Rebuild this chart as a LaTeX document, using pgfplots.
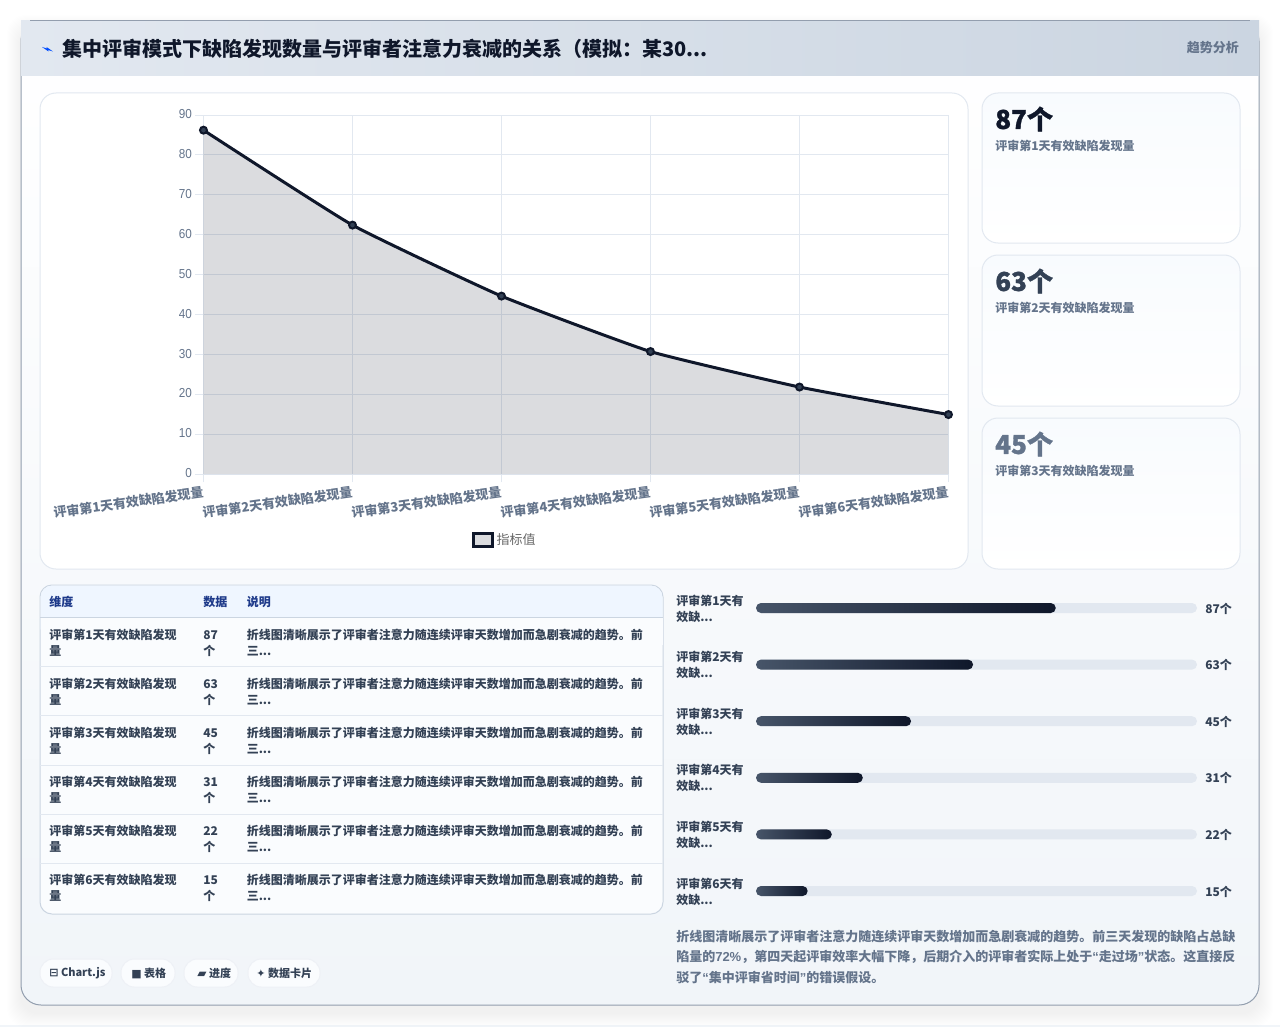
\documentclass[border=0pt]{standalone}
\usepackage{fontspec}
\usepackage{pgfplots}
\pgfplotsset{compat=1.18}
\setmainfont{Noto Sans CJK SC}
\newfontfamily\lat[FakeStretch=0.9]{Liberation Sans}
\newfontfamily\qt{Liberation Sans}
\newfontfamily\sym{DejaVu Sans}
\newfontfamily\heavy[FakeBold=1.2]{Noto Sans CJK SC Black}
\definecolor{ink}{HTML}{0F172A}
\definecolor{slateb}{HTML}{334155}
\definecolor{slatec}{HTML}{475569}
\definecolor{slated}{HTML}{64748B}
\definecolor{line}{HTML}{E2E8F0}
\definecolor{lineb}{HTML}{CBD5E1}
\definecolor{navy}{HTML}{1E3A8A}
\definecolor{pagebot}{HTML}{F1F5F9}
\definecolor{cardtop}{HTML}{F8FBFE}
\definecolor{tablebg}{HTML}{FAFCFE}
\definecolor{headbg}{HTML}{EFF6FF}
\definecolor{legtext}{HTML}{666666}
\newcommand\fz[1]{\fontsize{#1}{#1}\selectfont}
\newcommand\qopen{{\qt “}}
\newcommand\qclose{{\qt ”}}
\tikzset{px/.style={x=0.75pt,y=-0.75pt}}
\begin{document}
\begin{tikzpicture}
\begin{scope}[px]
\path[use as bounding box] (0,0) rectangle (1280,1027);
\fill[white] (0,0) rectangle (1280,1027);
\fill[pagebot] (0,1025) rectangle (1280,1027);
% shadow and container
\foreach \k in {1,...,14}
  \fill[black,opacity=0.004,rounded corners=14pt] ({21-\k},{29-\k}) rectangle ({1259+\k},{1005+\k+8});
\path[draw=slated!70,line width=0.75pt,rounded corners=15pt,top color=white,bottom color=pagebot]
  (21,21) rectangle (1259,1005);
\shade[left color=line,right color=lineb] (21,21) rectangle (1259,76);
\draw[slated!70,line width=0.75pt] (30,21) -- (1250,21);
% chart card
\path[fill=white,draw=line,line width=0.75pt,rounded corners=12pt] (40,93) rectangle (968,569);
% stat cards
\foreach \a/\b in {93/243,255/406,418/569}
  \path[draw=line,line width=0.75pt,rounded corners=12pt,top color=cardtop,bottom color=white] (982,\a) rectangle (1240,\b);
% table
\path[fill=tablebg,draw=lineb,line width=0.75pt,rounded corners=9pt] (40,585) rectangle (663,914);
\path[fill=headbg,rounded corners=9pt] (40.5,585.5) -- (662.5,585.5) -- (662.5,640) -- (40.5,640) -- cycle;
\fill[tablebg] (40.5,617) rectangle (662.5,645);
\draw[lineb,line width=0.75pt] (40,617.5) -- (663,617.5);
\foreach \y in {666.5,715.5,765.5,814.5,863.5}
  \draw[line,line width=0.75pt] (40,\y) -- (663,\y);
% pills
\foreach \a/\b in {40/112,121/175,184/238,248/320}
  \path[fill=tablebg,draw=line!60,line width=0.75pt,rounded corners=10pt] (\a,959) rectangle (\b,987);
\end{scope}

% line chart
\begin{axis}[
    at={(152.6pt,-355.5pt)}, anchor=south west,
    scale only axis,
    width=558.75pt, height=269.25pt,
    xmin=0, xmax=5, ymin=0, ymax=90,
    xtick={0,1,2,3,4,5},
    ytick={0,10,20,30,40,50,60,70,80,90},
    xticklabels={评审第1天有效缺陷发现量,评审第2天有效缺陷发现量,评审第3天有效缺陷发现量,评审第4天有效缺陷发现量,评审第5天有效缺陷发现量,评审第6天有效缺陷发现量},
    xticklabel style={rotate=8,anchor=north east,font=\fz{9.75}\bfseries,text=slated,inner sep=0pt,yshift=-2.4pt,xshift=-1pt},
    yticklabel style={font=\lat\fz{9.75},text=slated,/pgf/number format/assume math mode=true,inner sep=0pt,xshift=-2.5pt,yshift=0.6pt},
    grid=both,
    grid style={line,line width=0.75pt},
    axis line style={line,line width=0.75pt},
    tick style={line,line width=0.75pt},
    major tick length=6pt,
    xtick pos=bottom, ytick pos=left,
    tick align=outside,
    clip=false,
    legend style={at={(0.405,-0.184)},anchor=center,draw=none,fill=none,font=\fz{9.75},text=legtext,inner sep=0pt,row sep=0pt,/tikz/every even column/.append style={column sep=4pt}},
    legend image code/.code={\path[draw=ink,line width=2.25pt,fill=ink!15] (0pt,-5pt) rectangle (14pt,5pt);},
]
\addplot[forget plot,draw=none,fill=ink,fill opacity=0.15,smooth,tension=0.25] coordinates {
    (0,86.2) (1,62.4) (2,44.6) (3,30.7) (4,21.8) (5,14.9)
} \closedcycle;
\addplot[ink,line width=2.25pt,smooth,tension=0.25,mark=*,mark size=2.6pt,mark options={draw=ink,line width=1.5pt,fill=slateb}] coordinates {
    (0,86.2) (1,62.4) (2,44.6) (3,30.7) (4,21.8) (5,14.9)
};
\addlegendentry{指标值}
\end{axis}

% progress bars
\begin{axis}[
    at={(567pt,-710.7pt)}, anchor=south west,
    scale only axis,
    width=330.75pt, height=297.15pt,
    xmin=0, xmax=128, ymin=0, ymax=7,
    y dir=reverse,
    hide axis, clip=false,
    xbar, bar width=7.5pt, bar shift=0pt,
]
\addplot[draw=none,fill=line,rounded corners=3.75pt] coordinates {
    (128,1) (128,2) (128,3) (128,4) (128,5) (128,6)
};
\addplot[draw=none,left color=slatec,right color=ink,rounded corners=3.75pt] coordinates {(87,1)};
\addplot[draw=none,left color=slatec,right color=ink,rounded corners=3.75pt] coordinates {(63,2)};
\addplot[draw=none,left color=slatec,right color=ink,rounded corners=3.75pt] coordinates {(45,3)};
\addplot[draw=none,left color=slatec,right color=ink,rounded corners=3.75pt] coordinates {(31,4)};
\addplot[draw=none,left color=slatec,right color=ink,rounded corners=3.75pt] coordinates {(22,5)};
\addplot[draw=none,left color=slatec,right color=ink,rounded corners=3.75pt] coordinates {(15,6)};
\end{axis}

\begin{scope}[px,every node/.style={inner sep=0pt,anchor=west}]
% header
\fill[blue!70!cyan] (42,47) -- (47,48.5) -- (46.5,47) -- (53,51.5) -- (48,50) -- (48.5,51.5) -- cycle;
\node[text=ink,font=\fz{15}\bfseries] at (62,49) {集中评审模式下缺陷发现数量与评审者注意力衰减的关系（模拟：某30...};
\node[text=slated,font=\fz{9.75}\bfseries,anchor=east] at (1239,48) {趋势分析};
% stat cards
\foreach \t/\v/\c/\n in {119/87/ink/1,281/63/slateb/2,444/45/slated/3}{
  \node[text=\c,font=\heavy\fz{19.5}] at (995,\t) {\v 个};
  \node[text=slated,font=\fz{9}\bfseries] at (995,\t+27) {评审第\n 天有效缺陷发现量};
}
% table
\node[text=navy,font=\fz{9}\bfseries] at (49,602) {维度};
\node[text=navy,font=\fz{9}\bfseries] at (203,602) {数据};
\node[text=navy,font=\fz{9}\bfseries] at (246.5,602) {说明};
\foreach \y/\n/\v in {635/1/87,684/2/63,733/3/45,782/4/31,831/5/22,880/6/15}{
  \node[text=slateb,font=\fz{9}\bfseries] at (49,\y) {评审第\n 天有效缺陷发现};
  \node[text=slateb,font=\fz{9}\bfseries] at (49,\y+16) {量};
  \node[text=slateb,font=\fz{9}\bfseries] at (203,\y) {\v};
  \node[text=slateb,font=\fz{9}\bfseries] at (203,\y+16) {个};
  \node[text=slateb,font=\fz{9}\bfseries] at (246.5,\y) {折线图清晰展示了评审者注意力随连续评审天数增加而急剧衰减的趋势。前};
  \node[text=slateb,font=\fz{9}\bfseries] at (246.5,\y+16) {三...};
}
% bar labels
\foreach \y/\n/\v in {601/1/87,657/2/63,714/3/45,770/4/31,827/5/22,884/6/15}{
  \node[text=slateb,font=\fz{9}\bfseries] at (676,\y) {评审第\n 天有};
  \node[text=slateb,font=\fz{9}\bfseries] at (676,\y+16) {效缺...};
  \node[text=slateb,font=\fz{9}\bfseries] at (1205,\y+8) {\v 个};
}
% pills
\node[text=slateb,font=\fz{8.25}\bfseries] at (49,973) {{\sym ⊟} Chart.js};
\node[text=slateb,font=\fz{8.25}\bfseries] at (131,973) {{\sym ■} 表格};
\node[text=slateb,font=\fz{8.25}\bfseries] at (193,973) {{\sym\fz{9} ▰} 进度};
\node[text=slateb,font=\fz{8.25}\bfseries] at (256,973) {{\sym ✦} 数据卡片};
% paragraph
\node[text=slated,font=\fz{9.75}\bfseries] at (676,937) {折线图清晰展示了评审者注意力随连续评审天数增加而急剧衰减的趋势。前三天发现的缺陷占总缺};
\node[text=slated,font=\fz{9.75}\bfseries] at (676,957) {陷量的{\qt 72\%}，第四天起评审效率大幅下降，后期介入的评审者实际上处于\qopen 走过场\qclose 状态。这直接反};
\node[text=slated,font=\fz{9.75}\bfseries] at (676,977) {驳了\qopen 集中评审省时间\qclose 的错误假设。};
\end{scope}
\end{tikzpicture}
\end{document}
